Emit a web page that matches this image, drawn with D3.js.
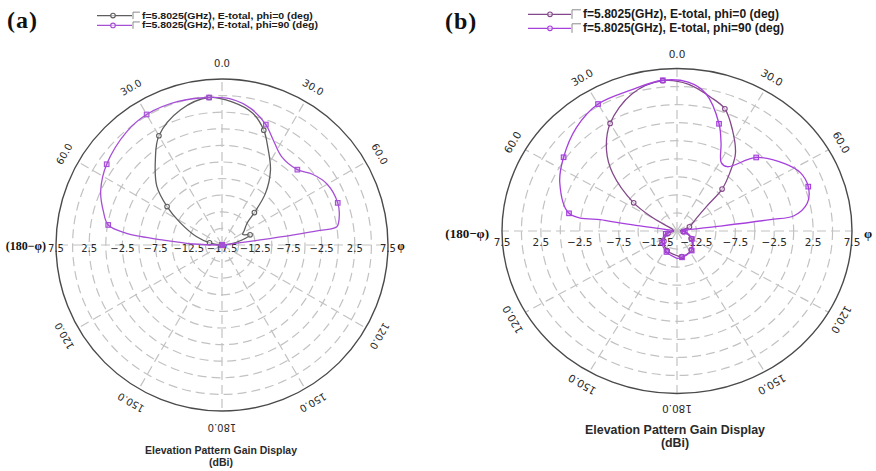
<!DOCTYPE html>
<html>
<head>
<meta charset="utf-8">
<script src="https://cdn.jsdelivr.net/npm/d3@7"></script>
<style>
  body { margin: 0; background: #fff; }
  svg { display: block; }
</style>
</head>
<body>
<svg id="chart" width="876" height="471"></svg>
<script>
// Shared text / angles
const legendText = ["f=5.8025(GHz), E-total, phi=0 (deg)", "f=5.8025(GHz), E-total, phi=90 (deg)"];
const markerDeg = [-155, -130, -105, -80, -55, -30, -5, 20, 45, 70, 95, 120, 145, 170];
const angleLabelDeg = [0, 30, 60, 120, 150, 180];
const spokeDeg = [0, 30, 60, 90, 120, 150, 180, 210, 240, 270, 300, 330];

// Panel (a): gain in dBi vs theta (deg, negative = left half)
const aRadialTicks = [7.5, 2.5, -2.5, -7.5, -12.5, -17.5];
const aPhi0Deg  = [-180, -155, -130, -105, -90, -80, -72, -62, -55, -48, -38, -30, -17, -5, 4, 13, 20, 25, 33, 40, 45, 49, 57, 63, 70, 76, 84, 90, 95, 120, 145, 170, 180];
const aPhi0Gain = [-30, -30, -30, -30, -17.3, -15.6, -13.5, -10.4, -7.4, -4.3, -1.2, 1.5, 3.8, 4.8, 4.1, 2.9, 0.9, -1.2, -4.1, -7.3, -10.6, -12.5, -13.5, -14.0, -13.0, -14.4, -16.3, -17.5, -30, -30, -30, -30, -30];
const aPhi90Deg  = [-180, -155, -130, -105, -90, -88, -85, -84, -83, -80, -74, -66, -55, -40, -30, -17, -5, 4, 12, 20, 26, 34, 45, 52, 60, 70, 76, 81, 81.5, 82, 82.5, 83, 90, 95, 120, 145, 170, 180];
const aPhi90Gain = [-30, -30, -30, -30, -17.5, -13.2, -8.1, -5.1, -3.0, -0.1, 1.1, 2.5, 3.7, 4.8, 5.2, 5.1, 4.8, 4.5, 3.5, 1.8, 0.1, -1.45, -1.45, -0.2, 0.8, 1.05, 0.7, 0.0, -2.6, -6.6, -11.7, -15.8, -30, -30, -30, -30, -30, -30];

// Panel (b)
const bRadialTicks = [7.5, 2.5, -2.5, -7.5, -12.5];
const bPhi0Deg  = [-180, -155, -130, -105, -90, -60, -55, -46, -39, -30, -17, -5, 4, 13, 20, 27, 35, 40, 45, 48, 55, 70, 90, 95, 120, 145, 170, 180];
const bPhi0Gain = [-11.6, -12.0, -12.8, -13.8, -14.6, -11.7, -8.2, -3.5, -0.6, 2.2, 4.85, 5.9, 5.4, 4.05, 3.0, 0.7, -1.9, -4.4, -6.8, -9.8, -12.0, -13.3, -14.6, -14.2, -12.9, -11.8, -11.4, -11.6];
const bPhi90Deg  = [-180, -155, -130, -105, -90, -82, -81.5, -81, -80, -66, -55, -42, -30, -17, -5, 4, 11, 20, 25, 31, 36, 45, 56, 63, 70, 77, 82, 82.5, 83, 83.5, 90, 95, 120, 145, 170, 180];
const bPhi90Gain = [-11.2, -11.8, -12.5, -13.5, -14.5, -13.5, -9.9, -5.6, -0.9, 1.5, 2.8, 4.3, 5.3, 5.4, 5.95, 5.65, 4.4, 0.8, -1.6, -3.95, -4.0, -0.6, 1.7, 2.8, 2.96, 2.2, 0.2, -2.9, -9.35, -13.6, -14.5, -14.0, -12.8, -11.7, -11.3, -11.2];

const panels = [
  {
    name: "(a)", nameX: 7, nameY: 28,
    cx: 222, cy: 245, rx: 166, ry: 166, domain: [-17.5, 7.5],
    ticks: aRadialTicks, tickY: 248, tickSize: 10, angleSize: 10, labelOff: 16,
    series: [
      { deg: aPhi0Deg, gain: aPhi0Gain, color: "#5e5e5e", shape: "circle" },
      { deg: aPhi90Deg, gain: aPhi90Gain, color: "#a64fd6", shape: "square" }
    ],
    legend: { x0: 97, x1: 132, xm: 113, ys: [15.6, 25.4], size: 9.2, len: [171, 176] },
    side: { lx: 46, rx: 401, y: 246, size: 12 },
    title: { x: 221, y1: 454, y2: 466, size: 10.5, len: 152 }
  },
  {
    name: "(b)", nameX: 445, nameY: 29,
    cx: 677, cy: 231, rx: 175, ry: 162.5, domain: [-15, 7.5],
    ticks: bRadialTicks, tickY: 242, tickSize: 10.5, angleSize: 10.5, labelOff: 15,
    series: [
      { deg: bPhi0Deg, gain: bPhi0Gain, color: "#83488a", shape: "circle" },
      { deg: bPhi90Deg, gain: bPhi90Gain, color: "#a640dc", shape: "square" }
    ],
    legend: { x0: 528, x1: 571, xm: 550, ys: [14.3, 28.3], size: 12, len: [196, 201] },
    side: { lx: 489, rx: 868, y: 233, size: 13 },
    title: { x: 675, y1: 434, y2: 447, size: 12.4, len: 180 }
  }
];

const svg = d3.select("#chart");
const fmt = d3.format(".1f");

function drawMarker(g, shape, x, y, color) {
  if (shape === "circle") {
    g.append("circle").attr("cx", x).attr("cy", y).attr("r", 2.3)
      .attr("fill", "#fff").attr("fill-opacity", 0.6)
      .attr("stroke", color).attr("stroke-width", 1.1);
  } else {
    g.append("rect").attr("x", x - 2.3).attr("y", y - 2.3).attr("width", 4.6).attr("height", 4.6)
      .attr("fill", color).attr("fill-opacity", 0.3)
      .attr("stroke", color).attr("stroke-width", 1.1);
  }
}

panels.forEach(p => {
  const g = svg.append("g");
  const r = d3.scaleLinear().domain(p.domain).range([0, 1]).clamp(true);
  const pt = (deg, gain) => {
    const t = deg * Math.PI / 180, k = r(gain);
    return [p.cx + k * p.rx * Math.sin(t), p.cy - k * p.ry * Math.cos(t)];
  };

  // dashed rings every 2.5 dB
  const rings = d3.range(p.domain[0] + 2.5, p.domain[1] - 0.01, 2.5);
  g.selectAll(".ring").data(rings).join("ellipse")
    .attr("cx", p.cx).attr("cy", p.cy)
    .attr("rx", d => r(d) * p.rx).attr("ry", d => r(d) * p.ry)
    .attr("fill", "none").attr("stroke", "#c2c2c2")
    .attr("stroke-width", 1.2).attr("stroke-dasharray", "9,5");

  // dashed spokes
  g.selectAll(".spoke").data(spokeDeg).join("line")
    .attr("x1", p.cx).attr("y1", p.cy)
    .attr("x2", d => pt(d, p.domain[1])[0])
    .attr("y2", d => pt(d, p.domain[1])[1])
    .attr("stroke", "#c2c2c2").attr("stroke-width", 1.2).attr("stroke-dasharray", "9,5");

  // outer boundary
  g.append("ellipse").attr("cx", p.cx).attr("cy", p.cy).attr("rx", p.rx).attr("ry", p.ry)
    .attr("fill", "none").attr("stroke", "#4a4a4a").attr("stroke-width", 1.4);

  // radial tick labels along the horizontal diameter
  const tickPos = [];
  p.ticks.forEach(t => {
    const k = r(t);
    if (k === 0) tickPos.push([p.cx, t]);
    else { tickPos.push([p.cx - k * p.rx, t]); tickPos.push([p.cx + k * p.rx, t]); }
  });
  g.selectAll(".rtick").data(tickPos).join("text")
    .attr("x", d => d[0]).attr("y", p.tickY)
    .attr("text-anchor", "middle").attr("dominant-baseline", "central")
    .attr("font-family", "DejaVu Sans, Verdana, sans-serif").attr("font-size", p.tickSize)
    .attr("fill", "#2a2a2a")
    .text(d => fmt(d[1]));

  // angle labels
  const angLabs = [];
  angleLabelDeg.forEach(d => {
    angLabs.push(d);
    if (d !== 0 && d !== 180) angLabs.push(-d);
  });
  g.selectAll(".alab").data(angLabs).join("text")
    .attr("transform", d => {
      const t = d * Math.PI / 180;
      const x = p.cx + (p.rx + p.labelOff) * Math.sin(t);
      const y = p.cy - (p.ry + p.labelOff) * Math.cos(t);
      return `translate(${x},${y}) rotate(${d})`;
    })
    .attr("text-anchor", "middle").attr("dominant-baseline", "central")
    .attr("font-family", "DejaVu Sans, Verdana, sans-serif").attr("font-size", p.angleSize)
    .attr("fill", "#2a2a2a")
    .text(d => fmt(Math.abs(d)));

  // side labels at 90 deg
  g.append("text").attr("x", p.side.lx).attr("y", p.side.y)
    .attr("text-anchor", "end").attr("dominant-baseline", "central")
    .attr("font-family", "Liberation Serif, Times New Roman, serif").attr("font-weight", "bold")
    .attr("font-size", p.side.size).attr("fill", "#111").text("(180\u2212\u03c6)");
  g.append("text").attr("x", p.side.rx).attr("y", p.side.y)
    .attr("text-anchor", "middle").attr("dominant-baseline", "central")
    .attr("font-family", "Liberation Serif, Times New Roman, serif").attr("font-weight", "bold")
    .attr("font-size", p.side.size).attr("fill", "#111").text("\u03c6");

  // curves and markers
  const line = d3.line().curve(d3.curveCatmullRom.alpha(0.5));
  p.series.forEach(s => {
    const pts = s.deg.map((d, i) => pt(d, s.gain[i]));
    g.append("path").attr("d", line(pts))
      .attr("fill", "none").attr("stroke", s.color).attr("stroke-width", 1.3);
    s.deg.forEach((d, i) => {
      if (markerDeg.includes(d)) {
        const q = pt(d, s.gain[i]);
        drawMarker(g, s.shape, q[0], q[1], s.color);
      }
    });
  });

  // legend
  p.series.forEach((s, i) => {
    const y = p.legend.ys[i];
    g.append("line").attr("x1", p.legend.x0).attr("x2", p.legend.x1).attr("y1", y).attr("y2", y)
      .attr("stroke", s.color).attr("stroke-width", 1.3);
    drawMarker(g, "circle", p.legend.xm, y, s.color);
    const bx = p.legend.x1 + 1, h = p.legend.size * 0.75;
    g.append("path").attr("d", `M${bx},${y + h / 2} V${y - h / 2} H${bx + h}`)
      .attr("fill", "none").attr("stroke", "#8a8a8a").attr("stroke-width", 1);
    g.append("text").attr("x", bx + h + 2).attr("y", y)
      .attr("dominant-baseline", "central")
      .attr("font-family", "Liberation Sans, Arial, sans-serif").attr("font-weight", "bold")
      .attr("font-size", p.legend.size).attr("fill", "#1a1a1a")
      .attr("textLength", p.legend.len[i]).attr("lengthAdjust", "spacingAndGlyphs")
      .text(legendText[i]);
  });

  // panel name
  g.append("text").attr("x", p.nameX).attr("y", p.nameY)
    .attr("font-family", "Liberation Serif, Times New Roman, serif").attr("font-weight", "bold")
    .attr("font-size", 24).attr("letter-spacing", 1).attr("fill", "#111").text(p.name);

  // bottom title
  g.append("text").attr("x", p.title.x).attr("y", p.title.y1).attr("text-anchor", "middle")
    .attr("font-family", "Liberation Sans, Arial, sans-serif").attr("font-weight", "bold")
    .attr("font-size", p.title.size).attr("fill", "#2a2a2a")
    .attr("textLength", p.title.len).attr("lengthAdjust", "spacingAndGlyphs")
    .text("Elevation Pattern Gain Display");
  g.append("text").attr("x", p.title.x).attr("y", p.title.y2).attr("text-anchor", "middle")
    .attr("font-family", "Liberation Sans, Arial, sans-serif").attr("font-weight", "bold")
    .attr("font-size", p.title.size).attr("fill", "#2a2a2a")
    .text("(dBi)");
});
</script>
</body>
</html>
